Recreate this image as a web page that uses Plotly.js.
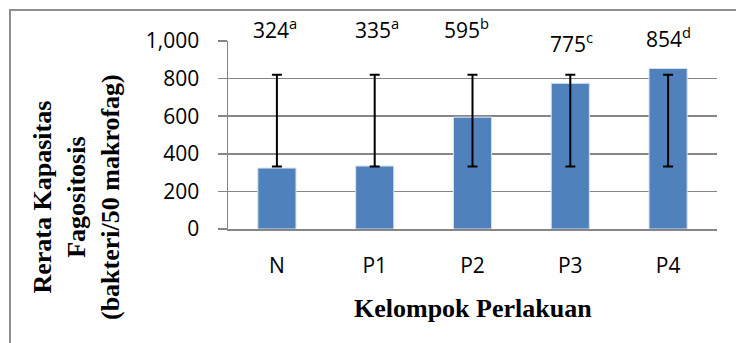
<!DOCTYPE html>
<html>
<head>
<meta charset="utf-8">
<script src="https://cdn.plot.ly/plotly-3.0.1.min.js"></script>
<style>
  html, body { margin: 0; padding: 0; background: #ffffff; overflow: hidden; }
  #chart { width: 736px; height: 343px; position: absolute; left: 0; top: 0; }
  #frame { position: absolute; left: 9px; top: 9px; width: 900px; height: 500px;
           border-left: 2px solid #8f8f8f; border-top: 2px solid #8f8f8f; pointer-events: none; }
</style>
</head>
<body>
<div id="chart"></div>
<div id="frame"></div>
<script>
// Mean phagocytic capacity per treatment group
const groups = ['N', 'P1', 'P2', 'P3', 'P4'];
const means = [324, 335, 595, 775, 854];
const letters = ['a', 'a', 'b', 'c', 'd'];
// Error bar bounds as plotted
const errLow = [333, 333, 333, 333, 333];
const errHigh = [820, 820, 820, 820, 820];

// Axis range, and where each value label sits (axis units) with a small horizontal nudge (px)
const yMax = 1000;
const labelY = [1065, 1065, 1065, 994, 1016];
const labelDx = [-2, 2, -6, 1, 0];

const tickFont = { family: 'Open Sans, sans-serif', size: 21, color: '#000000' };
const titleFont = { family: 'Liberation Serif, Times New Roman, serif', size: 26, color: '#000000' };

const bars = {
  type: 'bar',
  x: groups,
  y: means,
  width: 0.39,
  marker: { color: '#4f81bd', line: { color: '#d7e2f0', width: 1 } },
  hoverinfo: 'x+y'
};

const errs = {
  type: 'scatter',
  mode: 'markers',
  x: groups,
  y: errLow.map((lo, i) => (lo + errHigh[i]) / 2),
  marker: { size: 1, opacity: 0 },
  error_y: {
    type: 'data',
    array: errLow.map((lo, i) => (errHigh[i] - lo) / 2),
    color: '#000000',
    thickness: 2,
    width: 5
  },
  hoverinfo: 'skip'
};

// Value labels can sit above the top of the axis, so they are placed in paper units
const annotations = groups.map((g, i) => ({
  x: g, y: labelY[i] / yMax, xref: 'x', yref: 'paper',
  text: means[i] + '<sup>' + letters[i] + '</sup>',
  showarrow: false, xanchor: 'center', yanchor: 'middle',
  xshift: labelDx[i],
  font: tickFont
}));

annotations.push({
  xref: 'paper', yref: 'paper', x: 0.5, y: 0, yshift: -79,
  text: '<b>Kelompok Perlakuan</b>', showarrow: false,
  xanchor: 'center', yanchor: 'middle', font: titleFont
});
annotations.push({
  xref: 'paper', yref: 'paper', x: 0, y: 0.5, xshift: -152, yshift: -62,
  text: '<b>Rerata Kapasitas<br>Fagositosis<br>(bakteri/50 makrofag)</b>',
  showarrow: false, textangle: -90,
  xanchor: 'center', yanchor: 'middle', font: titleFont
});

const layout = {
  width: 736, height: 343,
  margin: { l: 228, r: 19, t: 41, b: 114, pad: 0 },
  paper_bgcolor: '#ffffff', plot_bgcolor: '#ffffff',
  showlegend: false,
  xaxis: {
    type: 'category',
    tickfont: tickFont,
    showline: true, linecolor: '#868686', linewidth: 1.5,
    ticks: '', ticklabelstandoff: 17,
    showgrid: false, zeroline: false, fixedrange: true
  },
  yaxis: {
    range: [0, yMax], dtick: 200, tickformat: ',d',
    tickfont: tickFont,
    showline: true, linecolor: '#868686', linewidth: 1.5,
    ticks: 'outside', ticklen: 9, tickcolor: '#868686', tickwidth: 1.5,
    ticklabelstandoff: 14,
    showgrid: true, gridcolor: '#868686', gridwidth: 1.5,
    zeroline: false, fixedrange: true
  },
  annotations: annotations
};

Plotly.newPlot('chart', [bars, errs], layout, { displayModeBar: false, staticPlot: true });
</script>
</body>
</html>
